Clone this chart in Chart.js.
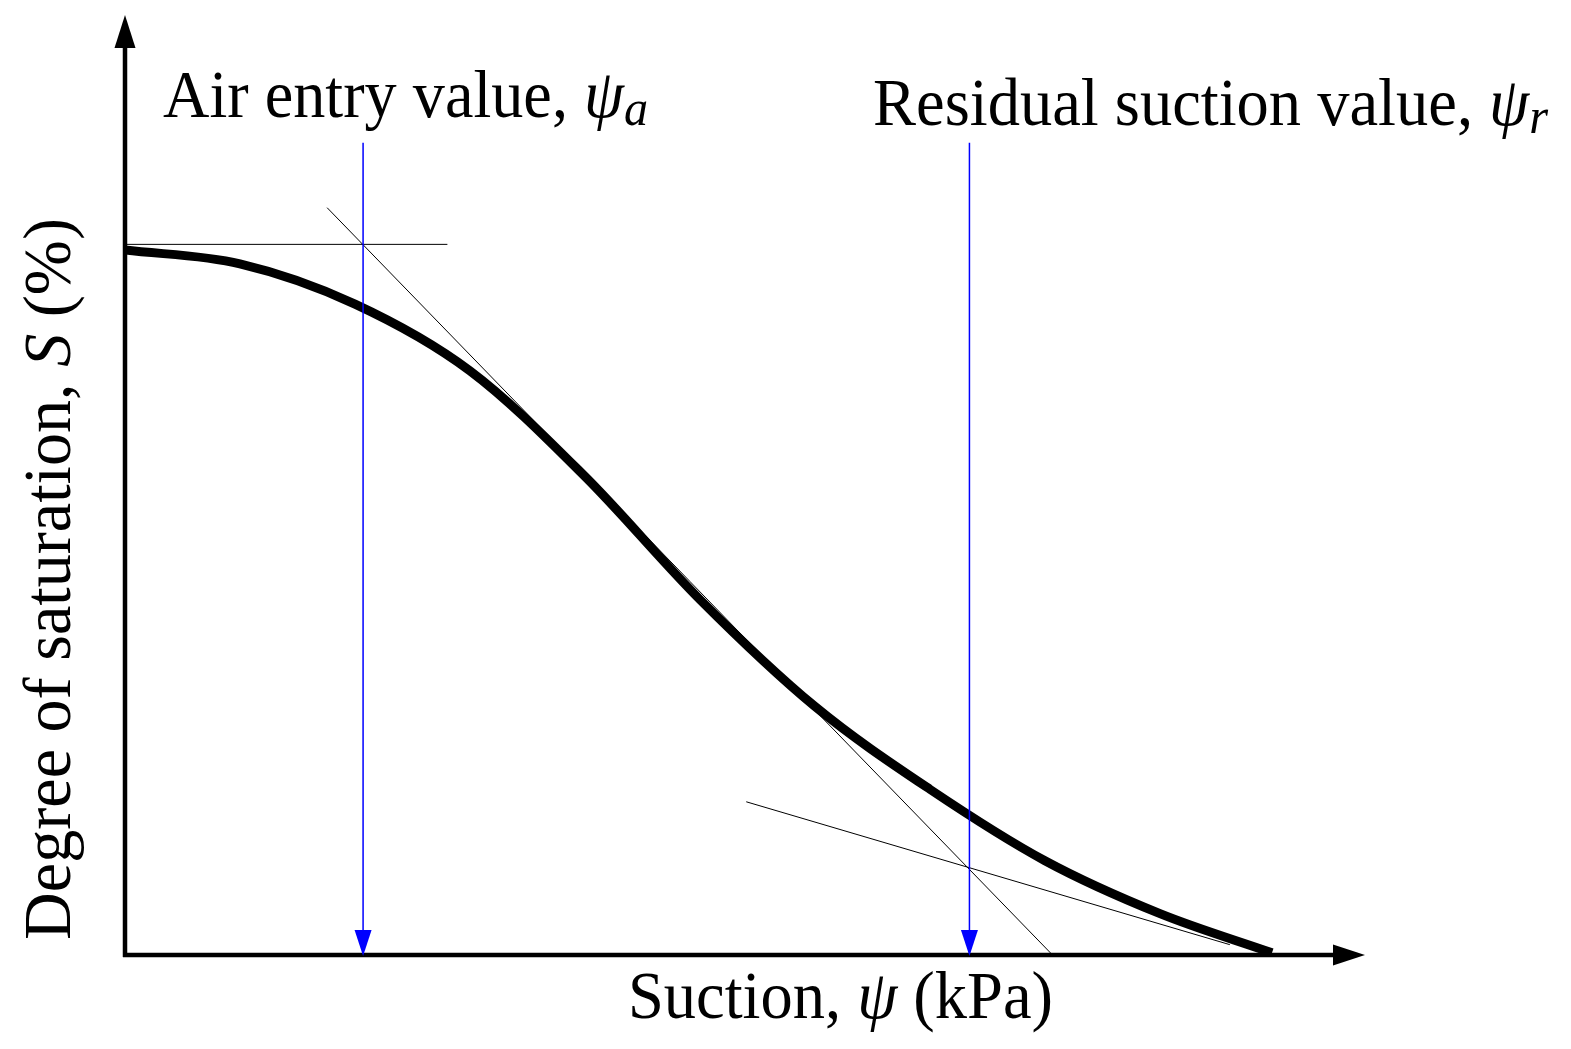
<!DOCTYPE html>
<html lang="en">
<head>
  <meta charset="UTF-8">
  <title>Soil-water characteristic curve</title>
  <script src="https://cdn.jsdelivr.net/npm/chart.js"></script>
  <style>
    html, body {
      margin: 0;
      padding: 0;
      background: #ffffff;
    }
    canvas {
      display: block;
    }
  </style>
</head>
<body>
  <canvas id="grafico" width="1571" height="1049"></canvas>

  <script>
    // main curve (suction in arbitrary units 0..100, saturation in %)
    const suction = [0, 9.27, 18.55, 27.82, 37.10, 46.37, 55.65, 64.92, 74.19, 83.47, 92.50];
    const saturation = [75.00, 73.53, 69.25, 62.15, 50.90, 37.81, 26.43, 17.62, 10.03, 4.40, 0.23];

    // construction lines
    const horizTangentX = [0, 26.0];
    const horizTangentY = [75.6, 75.6];
    const steepTangentX = [16.3, 74.8];
    const steepTangentY = [79.5, 0];
    const residualTangentX = [50.1, 89.1];
    const residualTangentY = [16.3, 1.1];

    // markers for air entry and residual suction
    const airEntryX = [19.2, 19.2];
    const residualX = [68.1, 68.1];
    const markerY = [86.4, 0];

    const pares = (xs, ys) => xs.map((x, i) => ({ x: x, y: ys[i] }));

    const serif = '"Liberation Serif", "Times New Roman", serif';

    // labels: segments with style, placed by left x / baseline and fitted to a width
    const rotulos = [
      { x: 163, y: 117, w: 485, rot: 0, seg: [['Air entry value, ', ''], ['ψ', 'italic'], ['a', 'italic', 'sub']] },
      { x: 873, y: 125, w: 675, rot: 0, seg: [['Residual suction value, ', ''], ['ψ', 'italic'], ['r', 'italic', 'sub']] },
      { x: 628, y: 1018, w: 425, rot: 0, seg: [['Suction, ', ''], ['ψ', 'italic'], [' (kPa)', '']] },
      { x: 70, y: 940, w: 722, rot: -Math.PI / 2, seg: [['Degree of saturation, ', ''], ['S', 'italic'], [' (%)', '']] }
    ];

    const eixosPlugin = {
      id: 'eixos',
      afterDatasetsDraw(chart) {
        const { ctx, chartArea: a } = chart;
        ctx.save();
        ctx.fillStyle = '#000';
        ctx.strokeStyle = '#000';
        ctx.lineWidth = 4.5;
        ctx.beginPath();
        ctx.moveTo(a.left, a.bottom + 2);
        ctx.lineTo(a.left, a.top + 30);
        ctx.moveTo(a.left - 2, a.bottom);
        ctx.lineTo(a.right - 28, a.bottom);
        ctx.stroke();
        // arrow heads
        ctx.beginPath();
        ctx.moveTo(a.left, a.top);
        ctx.lineTo(a.left - 10.5, a.top + 33);
        ctx.lineTo(a.left + 10.5, a.top + 33);
        ctx.closePath();
        ctx.fill();
        ctx.beginPath();
        ctx.moveTo(a.right, a.bottom);
        ctx.lineTo(a.right - 32, a.bottom - 10.5);
        ctx.lineTo(a.right - 32, a.bottom + 10.5);
        ctx.closePath();
        ctx.fill();

        // arrow heads on the marker lines
        chart.data.datasets.forEach((ds, i) => {
          if (!ds.seta) return;
          const pts = chart.getDatasetMeta(i).data;
          const p = pts[pts.length - 1];
          ctx.fillStyle = ds.borderColor;
          ctx.beginPath();
          ctx.moveTo(p.x, p.y + 1);
          ctx.lineTo(p.x - 8.5, p.y - 25);
          ctx.lineTo(p.x + 8.5, p.y - 25);
          ctx.closePath();
          ctx.fill();
        });
        ctx.restore();
      },
      afterDraw(chart) {
        const ctx = chart.ctx;
        const size = 68;
        const fonte = (estilo, sub) => `${estilo} ${sub ? Math.round(size * 0.75) : size}px ${serif}`;
        rotulos.forEach(r => {
          ctx.save();
          let total = 0;
          r.seg.forEach(s => {
            ctx.font = fonte(s[1], s[2]);
            total += ctx.measureText(s[0]).width;
          });
          ctx.translate(r.x, r.y);
          ctx.rotate(r.rot);
          ctx.scale(r.w / total, 1);
          ctx.fillStyle = '#000';
          ctx.textBaseline = 'alphabetic';
          let cx = 0;
          r.seg.forEach(s => {
            ctx.font = fonte(s[1], s[2]);
            ctx.fillText(s[0], cx, s[2] ? 8 : 0);
            cx += ctx.measureText(s[0]).width;
          });
          ctx.restore();
        });
      }
    };

    new Chart(document.getElementById('grafico'), {
      type: 'line',
      data: {
        datasets: [
          {
            label: 'Air entry marker',
            data: pares(airEntryX, markerY),
            borderColor: '#0000ff',
            borderWidth: 1.5,
            pointRadius: 0,
            seta: true
          },
          {
            label: 'Residual marker',
            data: pares(residualX, markerY),
            borderColor: '#0000ff',
            borderWidth: 1.5,
            pointRadius: 0,
            seta: true
          },
          {
            label: 'Horizontal tangent',
            data: pares(horizTangentX, horizTangentY),
            borderColor: '#000',
            borderWidth: 1,
            pointRadius: 0
          },
          {
            label: 'Steep tangent',
            data: pares(steepTangentX, steepTangentY),
            borderColor: '#000',
            borderWidth: 1,
            pointRadius: 0
          },
          {
            label: 'Residual tangent',
            data: pares(residualTangentX, residualTangentY),
            borderColor: '#000',
            borderWidth: 1,
            pointRadius: 0
          },
          {
            label: 'SWCC',
            data: pares(suction, saturation),
            borderColor: '#000',
            borderWidth: 9,
            pointRadius: 0,
            cubicInterpolationMode: 'monotone',
            borderCapStyle: 'butt',
            borderJoinStyle: 'round'
          }
        ]
      },
      options: {
        responsive: false,
        animation: false,
        devicePixelRatio: 1,
        layout: {
          padding: { left: 125, right: 206, top: 15, bottom: 94 }
        },
        scales: {
          x: { type: 'linear', min: 0, max: 100, display: false },
          y: { type: 'linear', min: 0, max: 100, display: false }
        },
        plugins: {
          legend: { display: false },
          tooltip: { enabled: false }
        }
      },
      plugins: [eixosPlugin]
    });
  </script>
</body>
</html>
